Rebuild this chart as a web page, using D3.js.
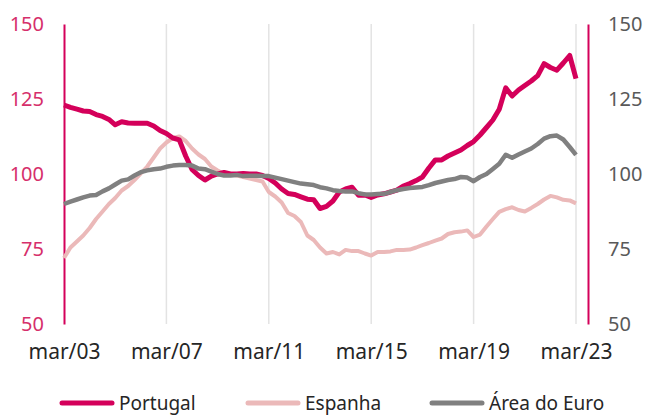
<!DOCTYPE html>
<html>
<head>
<meta charset="utf-8">
<script src="https://cdn.jsdelivr.net/npm/d3@7"></script>
<style>
    body { margin: 0; background: #fff; }
    svg { display: block; font-family: "Noto Sans", sans-serif; }
</style>
</head>
<body>
<svg id="chart"></svg>
<script>
// quarterly values, mar/03 .. mar/23
const portugal = [123, 122.2, 121.6, 121, 120.8, 119.8, 119.2, 118.2, 116.4, 117.4,
    117, 116.9, 116.9, 116.9, 116, 114.5, 113.5, 112, 111.4, 106,
    101.5, 99.5, 98, 99.3, 100, 100.5, 100, 100, 100.2, 100,
    100, 99.5, 98.5, 97, 95, 93.5, 93.2, 92.4, 91.6, 91.4,
    88.5, 89.2, 91, 94, 95, 95.6, 92.9, 93, 92.2, 93,
    93.4, 94, 94.6, 96, 96.8, 97.8, 99, 102, 104.7, 104.7,
    106, 107, 108, 109.5, 110.8, 113, 115.5, 118, 121.6, 128.7,
    126, 128, 129.5, 131, 132.8, 136.8, 135.5, 134.6, 137, 139.5, 131.8];
const espanha = [72, 75.5, 77.5, 79.5, 82, 85, 87.5, 90, 92, 94.5,
    96, 98, 100.2, 102.5, 105.5, 108.5, 110.5, 112, 112.5, 111,
    108.5, 106.5, 105, 102.5, 101.2, 100, 100, 99.5, 99, 98.5,
    98, 97.5, 94, 92.5, 90.5, 87, 86, 84, 79.5, 78,
    75.5, 73.5, 74, 73.2, 74.7, 74.3, 74.3, 73.5, 72.8, 74,
    74, 74.2, 74.7, 74.7, 74.8, 75.5, 76.3, 77, 77.8, 78.5,
    80, 80.6, 80.8, 81.2, 79, 79.8, 82.5, 85, 87.4, 88.3,
    88.9, 88, 87.5, 88.7, 90, 91.5, 92.7, 92.2, 91.4, 91.2, 90.2];
const euro = [90, 90.8, 91.5, 92.2, 92.8, 93, 94.2, 95.2, 96.5, 97.8,
    98.2, 99.5, 100.6, 101.2, 101.6, 101.8, 102.4, 102.8, 103, 103,
    102.8, 101.8, 101.6, 100.8, 100, 99.5, 99.5, 99.7, 99.3, 99.4,
    99.4, 99.3, 99.3, 98.8, 98.3, 97.8, 97.3, 96.8, 96.6, 96.3,
    95.6, 95.2, 94.6, 94.3, 94.2, 94.2, 93.6, 93.2, 93.2, 93.3,
    93.4, 94, 94.6, 95, 95.3, 95.5, 95.7, 96.3, 97, 97.5,
    98, 98.3, 99, 98.8, 97.6, 99, 100, 101.7, 103.4, 106.4,
    105.4, 106.5, 107.5, 108.5, 110, 111.8, 112.6, 112.8, 111.5, 109, 106.4];

const seriesNames = ['Portugal', 'Espanha', 'Área do Euro'];
const yTicks = [50, 75, 100, 125, 150];
const xTickYears = [2003, 2007, 2011, 2015, 2019, 2023];

const dates = portugal.map((d, i) => new Date(2003, 2 + i * 3, 1));

const width = 645;
const height = 415;
const margin = {left: 64, right: 69, top: 24, bottom: 94};

const colors = {
    'Portugal': '#d4005a',
    'Espanha': '#ebb9b9',
    'Área do Euro': '#808080'
};
const widths = {'Portugal': 5, 'Espanha': 4, 'Área do Euro': 4.5};

let svg = d3.select('#chart')
    .attr('width', width)
    .attr('height', height);

let xScale = d3.scaleTime()
    .domain([new Date(2003, 2, 1), new Date(2023, 2, 1)])
    .range([margin.left, 576]);

let yScale = d3.scaleLinear()
    .domain([50, 150])
    .range([height - margin.bottom + 3, margin.top]);

let rightX = width - margin.right + 12;

// vertical grid lines
svg.append('g')
    .selectAll('line')
    .data(xTickYears.slice(1))
    .enter()
    .append('line')
    .attr('x1', d => xScale(new Date(d, 2, 1)))
    .attr('x2', d => xScale(new Date(d, 2, 1)))
    .attr('y1', yScale(150))
    .attr('y2', yScale(50))
    .attr('stroke', '#e3e3e3')
    .attr('stroke-width', 1.5);

// x axis labels
let xAxis = d3.axisBottom(xScale)
    .tickValues(xTickYears.map(y => new Date(y, 2, 1)))
    .tickFormat(d => 'mar/' + d3.timeFormat('%y')(d))
    .tickSize(0)
    .tickPadding(20);

let gx = svg.append('g')
    .attr('transform', 'translate(0,' + yScale(50) + ')')
    .call(xAxis);
gx.select('.domain').remove();
gx.selectAll('text')
    .attr('fill', '#262626')
    .style('font-size', '21px')
    .style('font-family', '"Noto Sans", sans-serif');

// left axis
let yAxisLeft = d3.axisLeft(yScale)
    .tickValues(yTicks)
    .tickSize(0)
    .tickPadding(20);

let gl = svg.append('g')
    .attr('transform', 'translate(' + margin.left + ',0)')
    .call(yAxisLeft);
gl.select('.domain').attr('stroke', '#d4005a').attr('stroke-width', 2);
gl.selectAll('text')
    .attr('fill', '#d62f6b')
    .style('font-size', '20px')
    .style('font-family', '"Noto Sans", sans-serif');

// right axis
let yAxisRight = d3.axisRight(yScale)
    .tickValues(yTicks)
    .tickSize(0)
    .tickPadding(20);

let gr = svg.append('g')
    .attr('transform', 'translate(' + rightX + ',0)')
    .call(yAxisRight);
gr.select('.domain').attr('stroke', '#d4005a').attr('stroke-width', 2);
gr.selectAll('text')
    .attr('fill', '#595959')
    .style('font-size', '20px')
    .style('font-family', '"Noto Sans", sans-serif');

// lines
let line = d3.line()
    .x((d, i) => xScale(dates[i]))
    .y(d => yScale(d));

let drawOrder = [['Espanha', espanha], ['Portugal', portugal], ['Área do Euro', euro]];

drawOrder.forEach(s => {
    svg.append('path')
        .datum(s[1])
        .attr('d', line)
        .attr('fill', 'none')
        .attr('stroke', colors[s[0]])
        .attr('stroke-width', widths[s[0]])
        .attr('stroke-linejoin', 'round');
});

// legend
let legendX = [62, 248, 432];
let legend = svg.append('g')
    .selectAll('g')
    .data(seriesNames)
    .enter()
    .append('g')
    .attr('transform', (d, i) => 'translate(' + legendX[i] + ',403)');

legend.append('line')
    .attr('x1', 0)
    .attr('x2', 50)
    .attr('stroke', d => colors[d])
    .attr('stroke-width', 5)
    .attr('stroke-linecap', 'round');

legend.append('text')
    .attr('x', 57)
    .attr('y', 7)
    .attr('fill', '#262626')
    .style('font-size', '19px')
    .text(d => d);
</script>
</body>
</html>
